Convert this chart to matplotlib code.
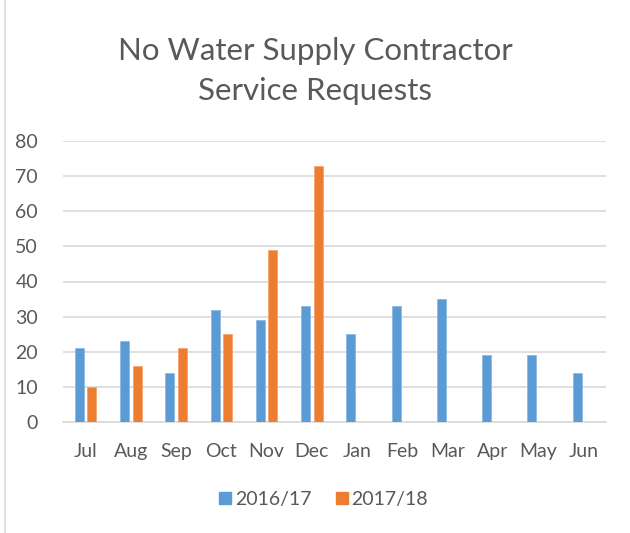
import numpy as np
import matplotlib.pyplot as plt
from matplotlib.lines import Line2D

plt.rcParams['font.family'] = ['Lato', 'DejaVu Sans']

# data
months = ["Jul", "Aug", "Sep", "Oct", "Nov", "Dec",
          "Jan", "Feb", "Mar", "Apr", "May", "Jun"]
fy_2016_17 = [21, 23, 14, 32, 29, 33, 25, 33, 35, 19, 19, 14]
fy_2017_18 = [10, 16, 21, 25, 49, 73]
series_names = ["2016/17", "2017/18"]

blue = "#5B9BD5"
orange = "#ED7D31"
text_color = "#595959"

fig = plt.figure(figsize=(6.3, 5.33), dpi=100)
ax = fig.add_axes([63 / 630, 1 - 422 / 533, 543 / 630, (422 - 141) / 533])

x = np.arange(len(months))
width = 0.2
ax.bar(x - 0.14, fy_2016_17, width, color=blue, edgecolor="#8DB9E3",
       linewidth=0.6, label=series_names[0], zorder=3)
ax.bar(np.arange(len(fy_2017_18)) + 0.14, fy_2017_18, width, color=orange,
       edgecolor="#F3A46F", linewidth=0.6, label=series_names[1], zorder=3)

ax.set_xlim(-0.5, len(months) - 0.5)
ax.set_ylim(0, 80)
ax.set_yticks(range(0, 81, 10))
ax.set_xticks(x)
ax.set_xticklabels(months)
ax.tick_params(axis="both", length=0, colors=text_color, labelsize=14)
ax.tick_params(axis="y", pad=18)
ax.tick_params(axis="x", pad=15)
ax.yaxis.grid(True, color="#D9D9D9", linewidth=1.2, zorder=0)
for side in ["top", "right", "left"]:
    ax.spines[side].set_visible(False)
ax.spines["bottom"].set_color("#D9D9D9")
ax.spines["bottom"].set_linewidth(1.2)

fig.text(0.5, 1 - 71 / 533, "No Water Supply Contractor\nService Requests",
         ha="center", va="center", fontsize=22.5, color=text_color,
         linespacing=1.48)

handles = [Line2D([], [], marker="s", linestyle="none", markersize=9,
                  color=blue),
           Line2D([], [], marker="s", linestyle="none", markersize=9,
                  color=orange)]
fig.legend(handles, series_names, loc="center", ncol=2,
           bbox_to_anchor=(0.513, 1 - 499 / 533), frameon=False,
           fontsize=14, labelcolor=text_color, handlelength=0.7,
           handletextpad=0.15, columnspacing=1.2)

# chart frame edge on the left
fig.add_artist(Line2D([5 / 630, 5 / 630], [0, 1], color="#D9D9D9",
                      linewidth=1.2))

plt.savefig("out.png", dpi=100)
